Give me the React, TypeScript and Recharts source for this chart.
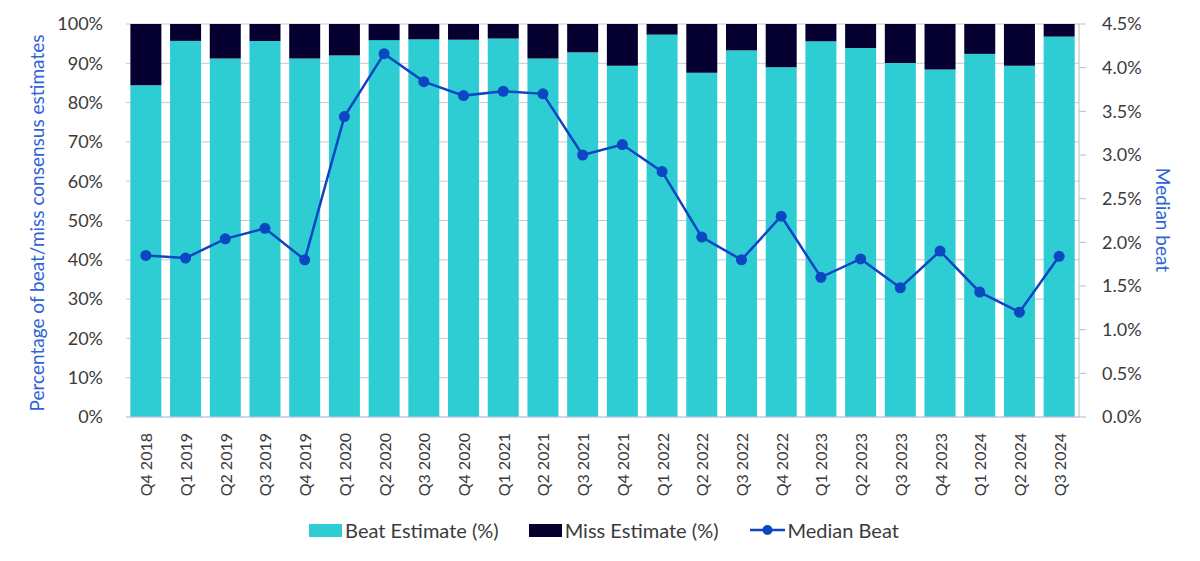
import React from 'react';
import { ComposedChart, Bar, Line, XAxis, YAxis, CartesianGrid, Legend } from 'recharts';

const quarters = [
  'Q4 2018', 'Q1 2019', 'Q2 2019', 'Q3 2019', 'Q4 2019', 'Q1 2020', 'Q2 2020', 'Q3 2020',
  'Q4 2020', 'Q1 2021', 'Q2 2021', 'Q3 2021', 'Q4 2021', 'Q1 2022', 'Q2 2022', 'Q3 2022',
  'Q4 2022', 'Q1 2023', 'Q2 2023', 'Q3 2023', 'Q4 2023', 'Q1 2024', 'Q2 2024', 'Q3 2024',
];
const beatEstimate = [
  84.4, 95.7, 91.2, 95.7, 91.2, 92.0, 95.9, 96.1,
  96.0, 96.3, 91.2, 92.8, 89.4, 97.3, 87.6, 93.3,
  89.0, 95.6, 93.9, 90.1, 88.4, 92.4, 89.4, 96.8,
];
const missEstimate = [
  15.6, 4.3, 8.8, 4.3, 8.8, 8.0, 4.1, 3.9,
  4.0, 3.7, 8.8, 7.2, 10.6, 2.7, 12.4, 6.7,
  11.0, 4.4, 6.1, 9.9, 11.6, 7.6, 10.6, 3.2,
];
const medianBeat = [
  1.85, 1.82, 2.04, 2.16, 1.80, 3.44, 4.16, 3.84,
  3.68, 3.73, 3.70, 3.00, 3.12, 2.81, 2.06, 1.80,
  2.30, 1.60, 1.81, 1.48, 1.90, 1.43, 1.20, 1.84,
];
const leftTicks = [0, 10, 20, 30, 40, 50, 60, 70, 80, 90, 100];
const rightTicks = [0, 0.5, 1, 1.5, 2, 2.5, 3, 3.5, 4, 4.5];

const data = quarters.map((q, i) => ({
  quarter: q,
  beat: beatEstimate[i],
  miss: missEstimate[i],
  median: medianBeat[i],
}));

const FONT = 'Lato, "Noto Sans", sans-serif';
const TEXT = '#3b3b3b';
const TITLE_BLUE = '#2f63d8';
const BEAT = '#2ecdd4';
const MISS = '#05002f';
const LINE = '#0c46c2';
const GRID = '#c4c8d2';

const W = 1184;
const H = 545;

function XTick(props: any) {
  const { x, y, payload } = props;
  const ty = y + 16;
  return (
    <text
      x={x}
      y={ty}
      transform={`rotate(-90, ${x}, ${ty})`}
      textAnchor="end"
      dominantBaseline="central"
      fill={TEXT}
      fontSize={16}
      fontFamily={FONT}
    >
      {payload.value}
    </text>
  );
}

function renderLegend() {
  return (
    <div
      style={{
        display: 'flex',
        justifyContent: 'center',
        alignItems: 'center',
        height: 24,
        fontFamily: FONT,
        fontSize: 20,
        color: TEXT,
        paddingLeft: 8,
      }}
    >
      <span style={{ display: 'inline-block', width: 33, height: 13, background: BEAT }} />
      <span style={{ marginLeft: 3 }}>Beat Estimate (%)</span>
      <span style={{ display: 'inline-block', width: 33, height: 13, background: MISS, marginLeft: 30 }} />
      <span style={{ marginLeft: 3 }}>Miss Estimate (%)</span>
      <svg width={35} height={14} style={{ marginLeft: 31 }}>
        <line x1={0} y1={7} x2={35} y2={7} stroke={LINE} strokeWidth={2.5} />
        <circle cx={17.5} cy={7} r={5} fill={LINE} />
      </svg>
      <span style={{ marginLeft: 3 }}>Median Beat</span>
    </div>
  );
}

export default function App() {
  return (
    <div style={{ position: 'relative', width: W, height: H, fontFamily: FONT }}>
      <ComposedChart
        width={W}
        height={H}
        data={data}
        margin={{ top: 16, right: 0, bottom: 11, left: 0 }}
        barCategoryGap="11%"
      >
        <CartesianGrid yAxisId="left" vertical={false} stroke={GRID} strokeWidth={1} />
        <XAxis
          dataKey="quarter"
          interval={0}
          height={101}
          tickSize={0}
          tickMargin={0}
          tickLine={false}
          axisLine={{ stroke: '#c9c3f0', strokeWidth: 1 }}
          tick={<XTick />}
        />
        <YAxis
          yAxisId="left"
          orientation="left"
          width={118}
          domain={[0, 100]}
          ticks={leftTicks}
          tickFormatter={(v: number) => `${v}%`}
          axisLine={false}
          tickLine={false}
          tickSize={0}
          tickMargin={23}
          tick={{ fill: TEXT, fontSize: 18, fontFamily: FONT }}
        />
        <YAxis
          yAxisId="right"
          orientation="right"
          width={113}
          domain={[0, 4.5]}
          ticks={rightTicks}
          tickFormatter={(v: number) => `${v.toFixed(1)}%`}
          axisLine={{ stroke: '#bdbdbd', strokeWidth: 1 }}
          tickLine={{ stroke: '#bdbdbd', strokeWidth: 1 }}
          tickSize={7}
          tickMargin={16}
          tick={{ fill: TEXT, fontSize: 18, fontFamily: FONT }}
        />
        <Legend verticalAlign="bottom" height={24} content={renderLegend} />
        <Bar yAxisId="left" dataKey="beat" name="Beat Estimate (%)" stackId="a" fill={BEAT} isAnimationActive={false} />
        <Bar yAxisId="left" dataKey="miss" name="Miss Estimate (%)" stackId="a" fill={MISS} isAnimationActive={false} />
        <Line
          yAxisId="right"
          type="linear"
          dataKey="median"
          name="Median Beat"
          stroke={LINE}
          strokeWidth={2.5}
          dot={{ r: 5.5, fill: LINE, stroke: LINE, strokeWidth: 0 }}
          activeDot={false}
          isAnimationActive={false}
        />
      </ComposedChart>
      <div
        style={{
          position: 'absolute',
          left: 28,
          top: 215,
          transform: 'translate(-50%, -50%) rotate(-90deg)',
          whiteSpace: 'nowrap',
          color: TITLE_BLUE,
          fontSize: 19,
          fontFamily: FONT,
        }}
      >
        Percentage of beat/miss consensus estimates
      </div>
      <div
        style={{
          position: 'absolute',
          left: 1155,
          top: 212,
          transform: 'translate(-50%, -50%) rotate(90deg)',
          whiteSpace: 'nowrap',
          color: TITLE_BLUE,
          fontSize: 19,
          fontFamily: FONT,
        }}
      >
        Median beat
      </div>
    </div>
  );
}
